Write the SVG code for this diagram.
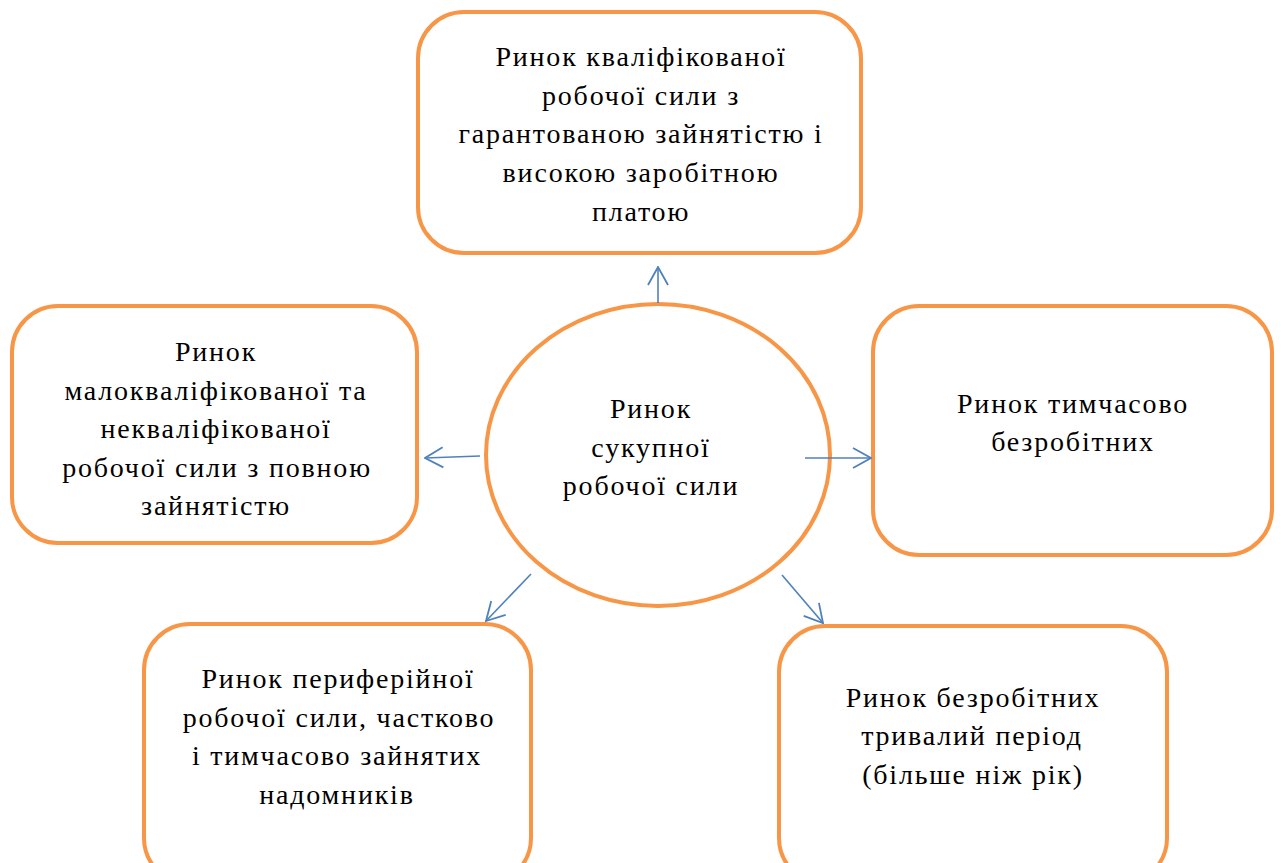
<svg xmlns="http://www.w3.org/2000/svg" width="1281" height="863" viewBox="0 0 1281 863">
<style>
.box{fill:#fff;stroke:#F79646;stroke-width:4}
.t{font-family:'Liberation Serif','Times New Roman','DejaVu Serif',serif;font-size:28px;letter-spacing:1.8px;fill:#000;text-anchor:middle}
.c{stroke:#4F81BD;stroke-width:1.6;fill:none;marker-end:url(#ah)}
</style>
<defs>
<marker id="ah" viewBox="0 0 20 22" refX="19" refY="11" markerWidth="20" markerHeight="22" markerUnits="userSpaceOnUse" orient="auto">
<path d="M1,1 L19,11 L1,21" fill="none" stroke="#4F81BD" stroke-width="1.8"/>
</marker>
</defs>
<rect width="1281" height="863" fill="#fff"/>
<g id="top">
<rect class="box" x="418" y="12" width="443" height="241" rx="46"/>
<text class="t"><tspan x="641" y="66">Ринок кваліфікованої</tspan><tspan x="641" y="105">робочої сили з</tspan><tspan x="641" y="143">гарантованою зайнятістю і</tspan><tspan x="641" y="182">високою заробітною</tspan><tspan x="641" y="221">платою</tspan></text>
</g>
<g id="left">
<rect class="box" x="12" y="306" width="405" height="237" rx="46"/>
<text class="t"><tspan x="216" y="361">Ринок</tspan><tspan x="216" y="400">малокваліфікованої та</tspan><tspan x="216" y="438">некваліфікованої</tspan><tspan x="217" y="477">робочої сили з повною</tspan><tspan x="216" y="515">зайнятістю</tspan></text>
</g>
<g id="right">
<rect class="box" x="873" y="306" width="399" height="249" rx="46"/>
<text class="t"><tspan x="1073" y="413">Ринок тимчасово</tspan><tspan x="1073" y="451">безробітних</tspan></text>
</g>
<g id="bottom-left">
<rect class="box" x="144" y="624" width="387" height="260" rx="46"/>
<text class="t"><tspan x="338" y="688">Ринок периферійної</tspan><tspan x="339" y="727">робочої сили, частково</tspan><tspan x="337" y="765">і тимчасово зайнятих</tspan><tspan x="337" y="804">надомників</tspan></text>
</g>
<g id="bottom-right">
<rect class="box" x="779" y="626" width="388" height="258" rx="46"/>
<text class="t"><tspan x="973" y="707">Ринок безробітних</tspan><tspan x="972" y="745">тривалий період</tspan><tspan x="973" y="784">(більше ніж рік)</tspan></text>
</g>
<g id="center">
<ellipse class="box" cx="658" cy="455" rx="172" ry="151"/>
<text class="t"><tspan x="651" y="418">Ринок</tspan><tspan x="651" y="457">сукупної</tspan><tspan x="651" y="495">робочої сили</tspan></text>
</g>
<g id="connectors">
<line class="c" x1="658" y1="303" x2="658" y2="267"/>
<line class="c" x1="480" y1="456" x2="425" y2="458"/>
<line class="c" x1="805" y1="458" x2="871" y2="458"/>
<line class="c" x1="531" y1="574" x2="486" y2="621"/>
<line class="c" x1="782" y1="575" x2="823" y2="623"/>
</g>
</svg>
